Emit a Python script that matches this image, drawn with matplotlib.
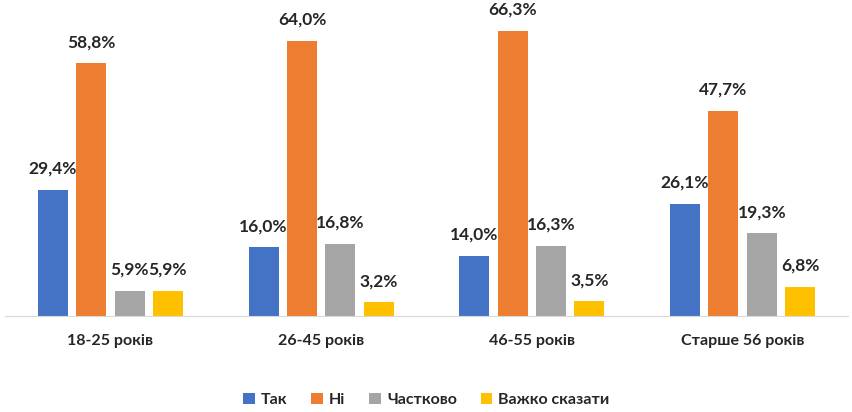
import matplotlib
matplotlib.use("Agg")
import matplotlib.pyplot as plt
import numpy as np

plt.rcParams['font.family'] = ['Lato', 'DejaVu Sans']

groups = ["18-25 років", "26-45 років", "46-55 років", "Старше 56 років"]
series = ["Так", "Ні", "Частково", "Важко сказати"]
tak = [29.4, 16.0, 14.0, 26.1]
ni = [58.8, 64.0, 66.3, 47.7]
chastkovo = [5.9, 16.8, 16.3, 19.3]
vazhko = [5.9, 3.2, 3.5, 6.8]
colors = ["#4472C4", "#ED7D31", "#A5A5A5", "#FFC000"]

fig = plt.figure(figsize=(8.52, 4.12), dpi=100)
ax = fig.add_axes([5/852, 96/412, 843/852, 311/412])

x = np.arange(len(groups))
width = 0.142
step = 0.182
for i, (name, vals) in enumerate(zip(series, [tak, ni, chastkovo, vazhko])):
    pos = x + (i - 1.5) * step
    bars = ax.bar(pos, vals, width, color=colors[i], label=name)
    for p, v in zip(pos, vals):
        ax.text(p, v + 3.0, f"{v:.1f}%".replace(".", ","), ha="center", va="bottom",
                fontsize=12.5, fontweight="bold", color="#262626")

ax.set_xlim(-0.5, 3.5)
ax.set_ylim(0, 311/4.3)
ax.set_yticks([])
ax.set_xticks(x)
ax.set_xticklabels(groups, fontsize=11.5, fontweight="bold", color="#262626")
ax.tick_params(axis="x", length=0, pad=13)
for s in ["top", "right", "left"]:
    ax.spines[s].set_visible(False)
ax.spines["bottom"].set_color("#D9D9D9")

leg = ax.legend(loc="center", bbox_to_anchor=(0.5, (412-400-96)/311 ), ncol=4, frameon=False,
                handlelength=0.7, handleheight=0.7, handletextpad=0.4, columnspacing=1.5,
                prop={"weight": "bold", "size": 11.5})
for t in leg.get_texts():
    t.set_color("#262626")

fig.savefig("out.png", dpi=100)
